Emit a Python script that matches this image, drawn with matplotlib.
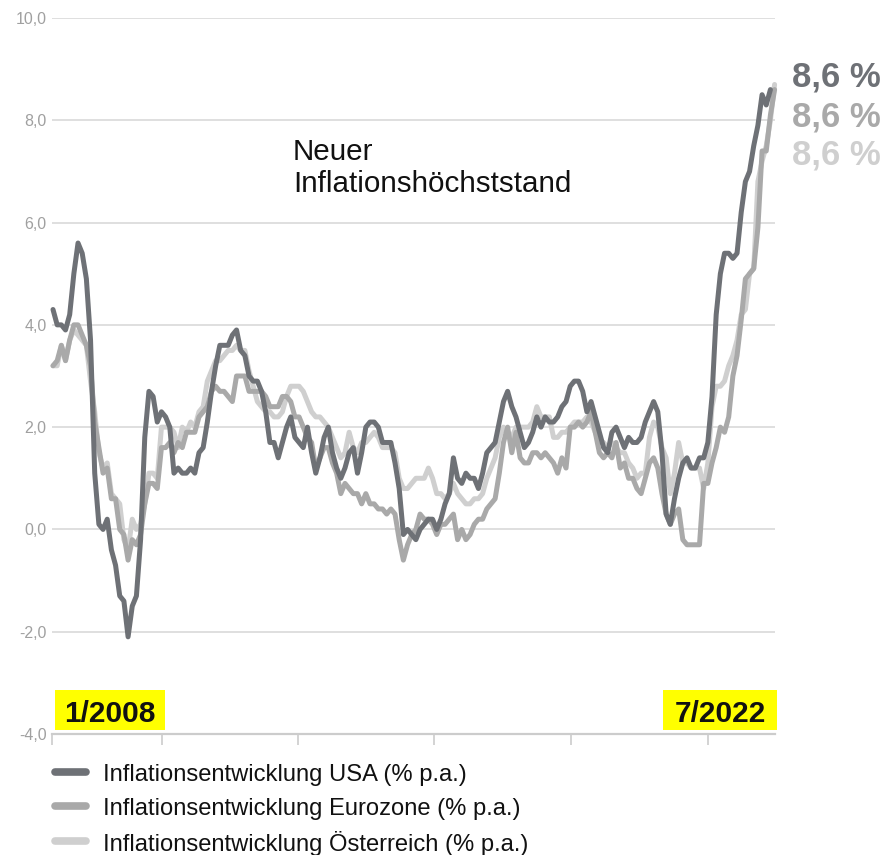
import matplotlib
matplotlib.use("Agg")
import matplotlib.pyplot as plt
from matplotlib.lines import Line2D
from matplotlib.patches import Rectangle
import numpy as np

plt.rcParams['font.family'] = ['Liberation Sans', 'DejaVu Sans']

# Monthly inflation (% p.a.), starting 1/2008
usa = [
    4.3, 4.0, 4.0, 3.9, 4.2, 5.0, 5.6, 5.4, 4.9, 3.7, 1.1, 0.1,
    0.0, 0.2, -0.4, -0.7, -1.3, -1.4, -2.1, -1.5, -1.3, -0.2, 1.8, 2.7,
    2.6, 2.1, 2.3, 2.2, 2.0, 1.1, 1.2, 1.1, 1.1, 1.2, 1.1, 1.5,
    1.6, 2.1, 2.7, 3.2, 3.6, 3.6, 3.6, 3.8, 3.9, 3.5, 3.4, 3.0,
    2.9, 2.9, 2.7, 2.3, 1.7, 1.7, 1.4, 1.7, 2.0, 2.2, 1.8, 1.7,
    1.6, 2.0, 1.5, 1.1, 1.4, 1.8, 2.0, 1.5, 1.2, 1.0, 1.2, 1.5,
    1.6, 1.1, 1.5, 2.0, 2.1, 2.1, 2.0, 1.7, 1.7, 1.7, 1.3, 0.8,
    -0.1, 0.0, -0.1, -0.2, 0.0, 0.1, 0.2, 0.2, 0.0, 0.2, 0.5, 0.7,
    1.4, 1.0, 0.9, 1.1, 1.0, 1.0, 0.8, 1.1, 1.5, 1.6, 1.7, 2.1,
    2.5, 2.7, 2.4, 2.2, 1.9, 1.6, 1.7, 1.9, 2.2, 2.0, 2.2, 2.1,
    2.1, 2.2, 2.4, 2.5, 2.8, 2.9, 2.9, 2.7, 2.3, 2.5, 2.2, 1.9,
    1.6, 1.5, 1.9, 2.0, 1.8, 1.6, 1.8, 1.7, 1.7, 1.8, 2.1, 2.3,
    2.5, 2.3, 1.5, 0.3, 0.1, 0.6, 1.0, 1.3, 1.4, 1.2, 1.2, 1.4,
    1.4, 1.7, 2.6, 4.2, 5.0, 5.4, 5.4, 5.3, 5.4, 6.2, 6.8, 7.0,
    7.5, 7.9, 8.5, 8.3, 8.6,
]
eurozone = [
    3.2, 3.3, 3.6, 3.3, 3.7, 4.0, 4.0, 3.8, 3.6, 3.2, 2.1, 1.6,
    1.1, 1.2, 0.6, 0.6, 0.0, -0.1, -0.6, -0.2, -0.3, -0.1, 0.5, 0.9,
    0.9, 0.8, 1.6, 1.6, 1.7, 1.5, 1.7, 1.6, 1.9, 1.9, 1.9, 2.2,
    2.3, 2.4, 2.7, 2.8, 2.7, 2.7, 2.6, 2.5, 3.0, 3.0, 3.0, 2.7,
    2.7, 2.7, 2.7, 2.6, 2.4, 2.4, 2.4, 2.6, 2.6, 2.5, 2.2, 2.2,
    2.0, 1.8, 1.7, 1.2, 1.4, 1.6, 1.6, 1.3, 1.1, 0.7, 0.9, 0.8,
    0.7, 0.7, 0.5, 0.7, 0.5, 0.5, 0.4, 0.4, 0.3, 0.4, 0.3, -0.2,
    -0.6, -0.3, -0.1, 0.0, 0.3, 0.2, 0.2, 0.1, -0.1, 0.1, 0.1, 0.2,
    0.3, -0.2, 0.0, -0.2, -0.1, 0.1, 0.2, 0.2, 0.4, 0.5, 0.6, 1.1,
    1.7, 2.0, 1.5, 1.9, 1.4, 1.3, 1.3, 1.5, 1.5, 1.4, 1.5, 1.4,
    1.3, 1.1, 1.4, 1.2, 2.0, 2.0, 2.1, 2.0, 2.1, 2.3, 1.9, 1.5,
    1.4, 1.5, 1.4, 1.7, 1.2, 1.3, 1.0, 1.0, 0.8, 0.7, 1.0, 1.3,
    1.4, 1.2, 0.7, 0.3, 0.1, 0.3, 0.4, -0.2, -0.3, -0.3, -0.3, -0.3,
    0.9, 0.9, 1.3, 1.6, 2.0, 1.9, 2.2, 3.0, 3.4, 4.1, 4.9, 5.0,
    5.1, 5.9, 7.4, 7.4, 8.1, 8.6,
]
austria = [
    3.2, 3.2, 3.6, 3.3, 3.7, 3.9, 3.8, 3.7, 3.6, 2.9, 2.3, 1.5,
    1.2, 1.3, 0.7, 0.6, 0.5, -0.2, -0.4, 0.2, 0.0, 0.1, 0.5, 1.1,
    1.1, 1.0, 2.0, 2.0, 2.0, 1.9, 1.6, 2.0, 1.9, 2.1, 2.0, 2.3,
    2.4, 2.9, 3.1, 3.3, 3.3, 3.4, 3.5, 3.5, 3.6, 3.5, 3.5, 3.1,
    2.8, 2.5, 2.4, 2.3, 2.3, 2.2, 2.2, 2.3, 2.6, 2.8, 2.8, 2.8,
    2.7, 2.5, 2.3, 2.2, 2.2, 2.1, 2.0, 1.8, 1.6, 1.4, 1.5, 1.9,
    1.6, 1.5, 1.7, 1.7, 1.8, 1.9, 1.8, 1.6, 1.6, 1.6, 1.5, 1.0,
    0.8, 0.8, 0.9, 1.0, 1.0, 1.0, 1.2, 1.0, 0.7, 0.7, 0.6, 0.7,
    0.9, 0.7, 0.6, 0.5, 0.5, 0.6, 0.6, 0.7, 1.0, 1.2, 1.4, 1.8,
    2.0, 1.9, 1.8, 2.0, 2.0, 2.0, 2.0, 2.1, 2.4, 2.2, 2.2, 2.2,
    1.8, 1.8, 1.9, 1.9, 2.0, 2.1, 2.1, 2.1, 2.2, 2.1, 1.9, 1.7,
    1.7, 1.6, 1.7, 1.6, 1.5, 1.5, 1.3, 1.2, 1.0, 1.1, 1.1, 1.8,
    2.1, 2.0, 1.6, 1.4, 0.7, 1.1, 1.7, 1.3, 1.3, 1.2, 1.2, 1.2,
    0.8, 1.3, 2.4, 2.8, 2.8, 2.9, 3.2, 3.4, 3.7, 4.2, 4.3, 5.0,
    5.1, 6.8, 7.2, 7.5, 8.0, 8.7,
]

series_names = ["Inflationsentwicklung USA (% p.a.)",
                "Inflationsentwicklung Eurozone (% p.a.)",
                "Inflationsentwicklung Österreich (% p.a.)"]
end_labels = ["8,6 %", "8,6 %", "8,6 %"]
y_ticks = [-4, -2, 0, 2, 4, 6, 8, 10]
y_ticklabels = ["-4,0", "-2,0", "0,0", "2,0", "4,0", "6,0", "8,0", "10,0"]
x_ticks = [-0.24, 26.1, 58.75, 91.4, 124.2, 157.1]
start_label = "1/2008"
end_label = "7/2022"
annotation_lines = ["Neuer", "Inflationshöchststand"]

colors = ["#6e7176", "#a9a9a9", "#cfcfcf"]

W, H = 887, 855
fig = plt.figure(figsize=(W / 100, H / 100), dpi=100)

def fx(px):
    return px / W

def fy(py):
    return 1 - py / H

ax = fig.add_axes([fx(52), fy(734), (775 - 52) / W, (734 - 18) / H])
ax.set_xlim(-0.24, 173.1)
ax.set_ylim(-4, 10)

for y in y_ticks[1:]:
    ax.axhline(y, color="#d9d9d9", lw=1.2, zorder=0)

data = [usa, eurozone, austria]
for i in [2, 1, 0]:
    vals = data[i]
    ax.plot(np.arange(len(vals)), vals, color=colors[i], lw=3.6,
            solid_joinstyle="round", solid_capstyle="round", zorder=2 + (2 - i),
            clip_on=False)

for s in ["top", "right", "left"]:
    ax.spines[s].set_visible(False)
ax.spines["bottom"].set_color("#cccccc")
ax.spines["bottom"].set_linewidth(1.6)

ax.set_yticks(y_ticks)
ax.set_yticklabels(y_ticklabels)
ax.tick_params(axis="y", length=0, pad=4, labelsize=11.5, labelcolor="#a0a0a0")
ax.set_xticks(x_ticks)
ax.set_xticklabels([""] * len(x_ticks))
ax.tick_params(axis="x", length=8, width=1.2, color="#cccccc", direction="out")

# annotation
for txt, by in zip(annotation_lines, [160, 192]):
    fig.text(fx(293), fy(by), txt, fontsize=21.3, color="#111111",
             ha="left", va="baseline")

# end labels
for i, (lab, by) in enumerate(zip(end_labels, [86, 126, 165])):
    fig.text(fx(792), fy(by), lab, fontsize=25, fontweight="bold",
             color=colors[i], ha="left", va="baseline")

# yellow date labels
for (x0, x1, txt) in [(55, 165, start_label), (663, 777, end_label)]:
    fig.add_artist(Rectangle((fx(x0), fy(730)), fx(x1) - fx(x0), fy(690) - fy(730),
                             transform=fig.transFigure, facecolor="#ffff00",
                             edgecolor="none", zorder=5))
    fig.text(fx((x0 + x1) / 2), fy(722), txt, fontsize=21.5, fontweight="bold",
             color="#111111", ha="center", va="baseline", zorder=6)

# legend
for i, (name, ly) in enumerate(zip(series_names, [772, 806, 841])):
    fig.add_artist(Line2D([fx(55), fx(86)], [fy(ly), fy(ly)], transform=fig.transFigure,
                          color=colors[i], lw=5.5, solid_capstyle="round"))
    fig.text(fx(103), fy(ly), name, fontsize=17.1, color="#111111",
             ha="left", va="center_baseline")

fig.savefig("out.png", dpi=100)
